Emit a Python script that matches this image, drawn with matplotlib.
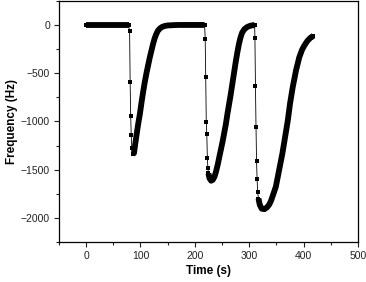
"""Frequency response of three successive loading cycles."""

import numpy as np
from matplotlib import pyplot as plt
from matplotlib.ticker import MultipleLocator

# slow parts of the trace (dense samples, drawn as a thick band)
base1_t = [0, 78]
base1_f = [0, 0]

rec1_t = [86, 88, 90, 93, 96, 99, 102, 105, 108, 111, 114, 117, 120, 123, 126,
          129, 132, 136, 140, 145, 150, 160, 170, 218]
rec1_f = [-1335, -1330, -1250, -1130, -1020, -920, -800, -690, -590, -500, -420,
          -340, -270, -200, -140, -95, -60, -35, -20, -10, -5, -2, 0, 0]

rec2_t = [225, 227, 230, 233, 236, 239, 242, 245, 248, 251, 254, 257, 260, 263,
          266, 269, 272, 275, 278, 281, 284, 287, 291, 296, 302, 308, 310]
rec2_f = [-1540, -1590, -1615, -1605, -1575, -1520, -1450, -1370, -1290, -1210,
          -1120, -1030, -920, -820, -720, -610, -500, -390, -290, -200, -130, -80,
          -45, -22, -8, -2, 0]

rec3_t = [317, 319.5, 323, 328, 333, 337, 340, 344, 349, 355, 361, 366, 371, 375,
          380, 386, 392, 397, 401, 407, 413, 418]
rec3_f = [-1800, -1866, -1905, -1910, -1890, -1860, -1825, -1760, -1677, -1505,
          -1333, -1162, -990, -818, -646, -474, -337, -260, -217, -165, -131, -113]

# fast drops (few samples, markers visible)
drop1_t = [80, 81, 82, 83, 84]
drop1_f = [-62, -595, -945, -1144, -1275]
drop2_t = [219, 220, 221, 222, 223, 224]
drop2_f = [-141, -536, -1007, -1134, -1378, -1481]
drop3_t = [310.5, 311.5, 312.5, 313.5, 314.5, 315.5]
drop3_f = [-137, -636, -1059, -1409, -1601, -1729]

slow = [(base1_t, base1_f), (rec1_t, rec1_f), (rec2_t, rec2_f), (rec3_t, rec3_f)]
time = np.concatenate([base1_t, drop1_t, rec1_t, drop2_t, rec2_t, drop3_t, rec3_t])
freq = np.concatenate([base1_f, drop1_f, rec1_f, drop2_f, rec2_f, drop3_f, rec3_f])

plt.rcParams["font.family"] = ["Liberation Sans", "DejaVu Sans"]

fig = plt.figure(figsize=(3.66, 2.82), dpi=100)
ax = fig.add_axes([0.161, 0.142, 0.817, 0.855])

ax.plot(time, freq, color="black", lw=0.6, marker="s", ms=3.0, mew=0)
for t, f in slow:
    ax.plot(t, f, color="black", lw=4.2, solid_capstyle="butt", solid_joinstyle="round")

ax.set_xlim(-50, 500)
ax.set_ylim(-2250, 250)
ax.xaxis.set_major_locator(MultipleLocator(100))
ax.xaxis.set_minor_locator(MultipleLocator(50))
ax.yaxis.set_major_locator(MultipleLocator(500))
ax.yaxis.set_minor_locator(MultipleLocator(250))
ax.tick_params(which="both", direction="out", top=False, right=False, width=0.8,
               labelsize=7.5, colors="#222222")
ax.tick_params(which="major", length=3.5, pad=3)
ax.tick_params(which="minor", length=2)
for s in ax.spines.values():
    s.set_linewidth(0.9)

ax.set_xlabel("Time (s)", fontsize=8.5, fontweight="bold", labelpad=3)
ax.set_ylabel("Frequency (Hz)", fontsize=8.5, fontweight="bold", labelpad=2)

fig.savefig("out.png", dpi=100)
